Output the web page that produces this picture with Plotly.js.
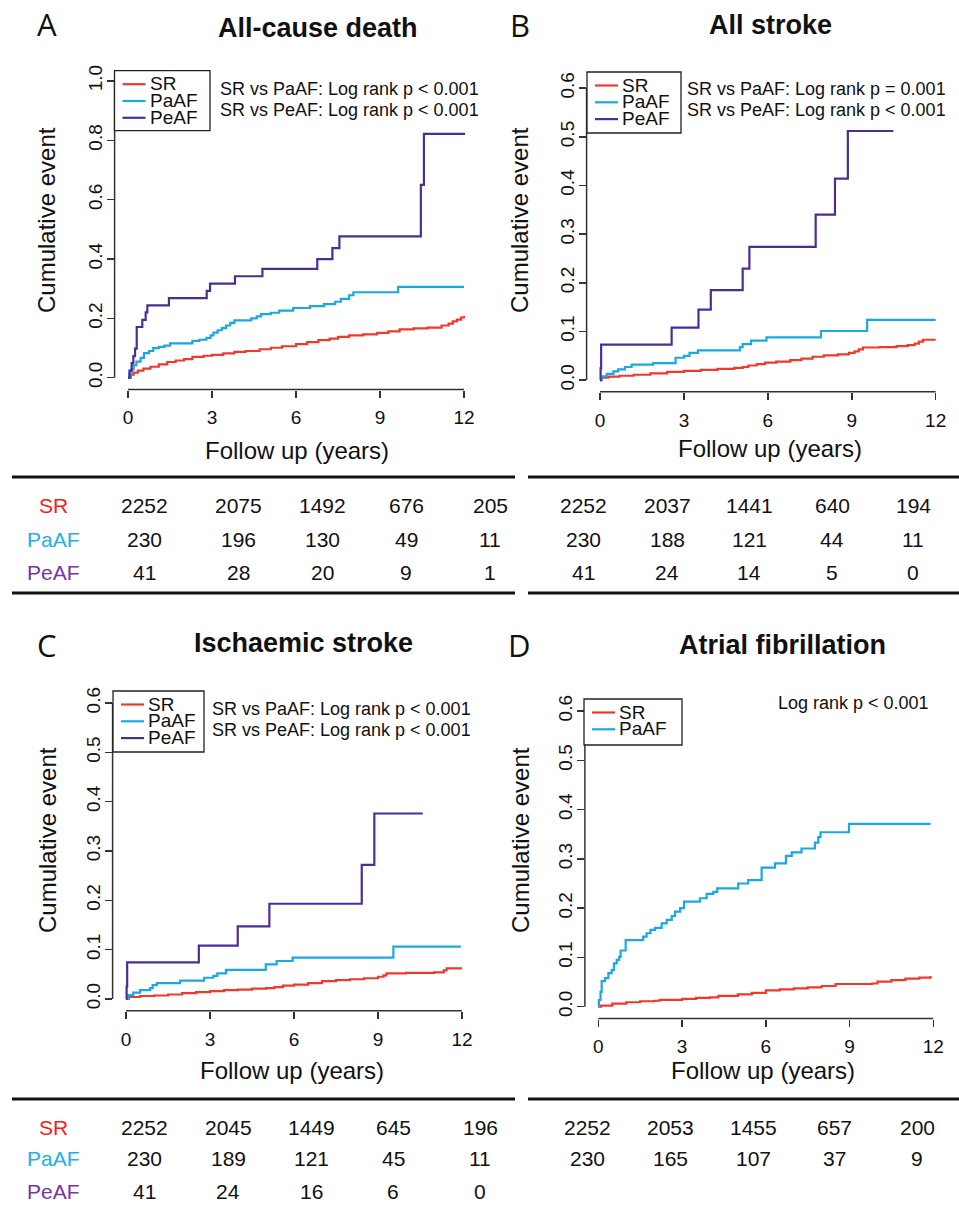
<!DOCTYPE html>
<html><head><meta charset="utf-8">
<script src="https://cdn.plot.ly/plotly-3.0.1.min.js"></script>
<style>html,body{margin:0;padding:0;background:#fff}#chart{width:959px;height:1208px}</style>
</head><body><div id="chart"></div>
<script>
// ---------- DATA ----------
const groups = ['SR', 'PaAF', 'PeAF'];
const xTicks = [0, 3, 6, 9, 12];

// A: All-cause death
const deathSR_t = [0, 0.1, 0.2, 0.35, 0.55, 0.8, 1.1, 1.4, 1.7, 2.0, 2.3, 2.7, 3.0, 3.4, 3.8, 4.2, 4.7, 5.1, 5.5, 6.0, 6.4, 6.8, 7.2, 7.5, 7.9, 8.4, 8.9, 9.3, 9.7, 10.2, 10.7, 11.2, 11.45, 11.6, 11.75, 11.9, 12.0];
const deathSR_y = [0, 0.01, 0.017, 0.024, 0.031, 0.037, 0.045, 0.053, 0.058, 0.063, 0.07, 0.074, 0.077, 0.082, 0.087, 0.09, 0.096, 0.101, 0.106, 0.113, 0.12, 0.127, 0.132, 0.138, 0.143, 0.146, 0.151, 0.156, 0.163, 0.166, 0.169, 0.176, 0.182, 0.19, 0.196, 0.203, 0.208];
const deathPaAF_t = [0, 0.05, 0.12, 0.2, 0.3, 0.45, 0.57, 0.75, 0.9, 1.1, 1.3, 1.5, 2.3, 2.55, 2.8, 2.95, 3.05, 3.2, 3.35, 3.5, 3.65, 3.8, 4.4, 4.6, 4.75, 5.1, 5.4, 5.9, 6.5, 7.0, 7.4, 7.6, 7.9, 8.05, 9.65, 12.0];
const deathPaAF_y = [0, 0.012, 0.028, 0.042, 0.054, 0.067, 0.083, 0.09, 0.1, 0.104, 0.108, 0.116, 0.124, 0.128, 0.134, 0.143, 0.152, 0.16, 0.167, 0.176, 0.185, 0.193, 0.2, 0.207, 0.214, 0.219, 0.226, 0.235, 0.241, 0.248, 0.256, 0.266, 0.278, 0.288, 0.306, 0.306];
const deathPeAF_t = [0, 0.05, 0.13, 0.19, 0.25, 0.31, 0.51, 0.63, 0.69, 1.46, 2.81, 2.93, 3.82, 4.80, 6.76, 7.30, 7.55, 10.46, 10.57, 12.04];
const deathPeAF_y = [0, 0.024, 0.049, 0.073, 0.098, 0.171, 0.195, 0.22, 0.244, 0.268, 0.293, 0.317, 0.342, 0.367, 0.4, 0.437, 0.476, 0.65, 0.822, 0.822];

// B: All stroke
const strokeSR_t = [0, 0.05, 0.3, 0.7, 1.2, 1.8, 2.4, 3.0, 3.6, 4.2, 4.8, 5.1, 5.3, 5.6, 5.9, 6.3, 6.8, 7.2, 7.6, 8.0, 8.5, 8.9, 9.1, 9.25, 9.4, 10.0, 10.6, 11.0, 11.25, 11.4, 11.55, 12.0];
const strokeSR_y = [0, 0.005, 0.007, 0.009, 0.011, 0.014, 0.017, 0.019, 0.021, 0.023, 0.025, 0.027, 0.03, 0.033, 0.036, 0.038, 0.041, 0.044, 0.048, 0.051, 0.053, 0.056, 0.059, 0.063, 0.067, 0.068, 0.07, 0.072, 0.075, 0.079, 0.083, 0.083];
const strokePaAF_t = [0, 0.06, 0.24, 0.48, 0.65, 0.89, 1.13, 1.9, 2.7, 3.0, 3.2, 3.5, 5.0, 5.1, 5.4, 5.95, 7.9, 9.55, 12.0];
const strokePaAF_y = [0, 0.008, 0.013, 0.018, 0.022, 0.027, 0.032, 0.035, 0.046, 0.05, 0.056, 0.061, 0.068, 0.074, 0.081, 0.088, 0.101, 0.124, 0.124];
const strokePeAF_t = [0, 0.02, 0.04, 2.56, 3.52, 3.96, 5.1, 5.34, 7.71, 8.4, 8.86, 10.49];
const strokePeAF_y = [0, 0.024, 0.073, 0.108, 0.145, 0.185, 0.229, 0.274, 0.34, 0.414, 0.512, 0.512];

// C: Ischaemic stroke
const ischSR_t = [0, 0.1, 0.5, 1.0, 1.5, 2.0, 2.5, 3.0, 3.5, 4.0, 4.5, 5.0, 5.3, 5.6, 6.0, 6.5, 7.0, 7.5, 8.0, 8.5, 9.0, 9.2, 9.3, 10.0, 11.0, 11.35, 11.45, 12.0];
const ischSR_y = [0, 0.004, 0.006, 0.007, 0.009, 0.012, 0.014, 0.016, 0.018, 0.019, 0.021, 0.022, 0.024, 0.027, 0.029, 0.032, 0.036, 0.038, 0.04, 0.042, 0.045, 0.048, 0.052, 0.053, 0.054, 0.058, 0.062, 0.062];
const ischPaAF_t = [0, 0.08, 0.26, 0.5, 0.86, 0.95, 1.1, 1.93, 2.79, 3.12, 3.26, 3.57, 4.99, 5.38, 5.95, 9.55, 11.96];
const ischPaAF_y = [0, 0.008, 0.013, 0.018, 0.022, 0.028, 0.032, 0.037, 0.043, 0.047, 0.052, 0.059, 0.07, 0.077, 0.084, 0.106, 0.106];
const ischPeAF_t = [0, 0.02, 0.04, 2.6, 3.99, 5.12, 8.42, 8.87, 10.6];
const ischPeAF_y = [0, 0.025, 0.074, 0.108, 0.147, 0.193, 0.272, 0.376, 0.376];

// D: Atrial fibrillation
const afSR_t = [0, 0.1, 0.5, 1.0, 1.5, 2.0, 2.2, 3.0, 3.5, 4.0, 4.3, 5.0, 5.5, 6.0, 6.5, 7.0, 7.5, 8.0, 8.5, 9.8, 10.0, 10.5, 11.0, 11.5, 11.9];
const afSR_y = [0, 0.002, 0.006, 0.009, 0.011, 0.012, 0.014, 0.016, 0.018, 0.019, 0.022, 0.025, 0.028, 0.033, 0.035, 0.037, 0.039, 0.042, 0.046, 0.047, 0.051, 0.054, 0.057, 0.059, 0.062];
const afPaAF_t = [0, 0.02, 0.08, 0.12, 0.24, 0.36, 0.48, 0.56, 0.66, 0.75, 0.8, 0.98, 1.61, 1.73, 1.87, 2.03, 2.27, 2.45, 2.63, 2.75, 2.93, 3.07, 3.64, 3.88, 4.12, 4.26, 5.01, 5.37, 5.85, 6.33, 6.72, 6.93, 7.28, 7.76, 7.88, 7.96, 8.98, 11.9];
const afPaAF_y = [0, 0.0135, 0.03, 0.052, 0.058, 0.068, 0.074, 0.088, 0.095, 0.101, 0.114, 0.135, 0.142, 0.149, 0.156, 0.16, 0.169, 0.176, 0.184, 0.193, 0.2, 0.213, 0.22, 0.229, 0.233, 0.24, 0.25, 0.257, 0.282, 0.291, 0.306, 0.313, 0.321, 0.333, 0.344, 0.354, 0.371, 0.371];

// Numbers at risk (at 0, 3, 6, 9, 12 years)
const deathRiskSR = [2252, 2075, 1492, 676, 205];
const deathRiskPaAF = [230, 196, 130, 49, 11];
const deathRiskPeAF = [41, 28, 20, 9, 1];
const strokeRiskSR = [2252, 2037, 1441, 640, 194];
const strokeRiskPaAF = [230, 188, 121, 44, 11];
const strokeRiskPeAF = [41, 24, 14, 5, 0];
const ischRiskSR = [2252, 2045, 1449, 645, 196];
const ischRiskPaAF = [230, 189, 121, 45, 11];
const ischRiskPeAF = [41, 24, 16, 6, 0];
const afRiskSR = [2252, 2053, 1455, 657, 200];
const afRiskPaAF = [230, 165, 107, 37, 9];

// Texts
const panelTitles = ['All-cause death', 'All stroke', 'Ischaemic stroke', 'Atrial fibrillation'];
const panelLetters = ['A', 'B', 'C', 'D'];
const logRankTexts = [
  ['SR vs PaAF: Log rank p < 0.001', 'SR vs PeAF: Log rank p < 0.001'],
  ['SR vs PaAF: Log rank p = 0.001', 'SR vs PeAF: Log rank p < 0.001'],
  ['SR vs PaAF: Log rank p < 0.001', 'SR vs PeAF: Log rank p < 0.001'],
  ['Log rank p < 0.001']
];
const yTitle = 'Cumulative event';
const xTitle = 'Follow up (years)';

// ---------- STYLE / LAYOUT ----------
const W = 959, H = 1208;
const PX = v => v / W, PY = v => 1 - v / H;
const FONT = 'Liberation Sans, Arial, Helvetica, sans-serif';
const curveColors = { SR: '#EE3A2C', PaAF: '#1BA8E0', PeAF: '#4B2D96' };
const labelColors = { SR: '#FF1A1A', PaAF: '#22B0E6', PeAF: '#7435A8' };
const AX = '#333333';

const series = [
  { SR: [deathSR_t, deathSR_y], PaAF: [deathPaAF_t, deathPaAF_y], PeAF: [deathPeAF_t, deathPeAF_y] },
  { SR: [strokeSR_t, strokeSR_y], PaAF: [strokePaAF_t, strokePaAF_y], PeAF: [strokePeAF_t, strokePeAF_y] },
  { SR: [ischSR_t, ischSR_y], PaAF: [ischPaAF_t, ischPaAF_y], PeAF: [ischPeAF_t, ischPeAF_y] },
  { SR: [afSR_t, afSR_y], PaAF: [afPaAF_t, afPaAF_y] }
];
const risks = [
  { SR: deathRiskSR, PaAF: deathRiskPaAF, PeAF: deathRiskPeAF },
  { SR: strokeRiskSR, PaAF: strokeRiskPaAF, PeAF: strokeRiskPeAF },
  { SR: ischRiskSR, PaAF: ischRiskPaAF, PeAF: ischRiskPeAF },
  { SR: afRiskSR, PaAF: afRiskPaAF }
];

// pixel geometry of each panel
const geo = [
  { xd: [114.6, 477.4], yd: [389.6, 69.1], yr: [-0.04, 1.04], ymax: 1.0, dt: 0.2,
    letter: [47, 24], title: [318, 28], ytit: [47, 220], xtit: [297, 450],
    leg: [114.5, 70.7, 210, 130.7], lr: { x: 218, y: [89, 110], anchor: 'left' } },
  { xd: [586.6, 949.1], yd: [391.8, 76.5], yr: [-0.024, 0.624], ymax: 0.6, dt: 0.1,
    letter: [520, 25], title: [770, 25], ytit: [520, 220], xtit: [770, 448],
    leg: [587, 72, 681, 133], lr: { x: 685, y: [89, 110], anchor: 'left' } },
  { xd: [112.6, 475.4], yd: [1010.8, 691.2], yr: [-0.024, 0.624], ymax: 0.6, dt: 0.1,
    letter: [47, 645], title: [303, 643], ytit: [47, 840], xtit: [292, 1070],
    leg: [113, 691, 204, 752], lr: { x: 210, y: [709, 730], anchor: 'left' } },
  { xd: [584.9, 946.7], yd: [1018.5, 699.2], yr: [-0.024, 0.624], ymax: 0.6, dt: 0.1,
    letter: [519, 645], title: [782, 645], ytit: [520, 840], xtit: [763, 1070],
    leg: [584, 699, 682, 745], lr: { x: 931, y: [703], anchor: 'right' } }
];
const tables = [
  { cols: [144, 238, 322, 406, 490], rows: [506, 539, 572], labelX: 53 },
  { cols: [583, 667, 749, 832, 913], rows: [506, 539, 572], labelX: null },
  { cols: [144, 228, 311, 393, 480], rows: [1127, 1158, 1191], labelX: 53 },
  { cols: [587, 670, 753, 834, 917], rows: [1127, 1158, 1191], labelX: null }
];
const tableLines = [
  [12, 477, 515], [528, 477, 959], [12, 593, 515], [528, 593, 959],
  [12, 1099, 515], [528, 1099, 959]
];

const traces = [];
const layout = {
  width: W, height: H, autosize: false,
  margin: { l: 0, r: 0, t: 0, b: 0 },
  paper_bgcolor: '#ffffff', plot_bgcolor: 'rgba(0,0,0,0)',
  showlegend: false,
  font: { family: FONT, color: '#111' },
  shapes: [], annotations: []
};
const ann = (x, y, text, size, opts = {}) => Object.assign({
  xref: 'paper', yref: 'paper', x: PX(x), y: PY(y), text, showarrow: false,
  xanchor: 'center', yanchor: 'middle', font: { family: FONT, size, color: '#111' }
}, opts);

geo.forEach((g, i) => {
  const n = i === 0 ? '' : String(i + 1);
  const xa = 'xaxis' + n, ya = 'yaxis' + n;
  const yticks = [];
  for (let v = 0; v <= g.ymax + 1e-9; v += g.dt) yticks.push(+v.toFixed(2));
  layout[xa] = {
    domain: [PX(g.xd[0]), PX(g.xd[1])], range: [-0.48, 12.48], anchor: 'y' + n,
    showgrid: false, zeroline: false, showline: false, ticks: 'outside', ticklen: 7,
    tickwidth: 1.5, tickcolor: AX, tickvals: xTicks, ticktext: xTicks.map(String),
    tickfont: { family: FONT, size: 19, color: '#111' }, ticklabelstandoff: 4, fixedrange: true
  };
  layout[ya] = {
    domain: [PY(g.yd[0]), PY(g.yd[1])], range: g.yr, anchor: 'x' + n,
    showgrid: false, zeroline: false, showline: false, ticks: 'outside', ticklen: 7,
    tickwidth: 1.5, tickcolor: AX, tickvals: yticks, ticktext: yticks.map(v => v.toFixed(1)),
    tickangle: -90, tickfont: { family: FONT, size: 19, color: '#111' }, ticklabelstandoff: -3, fixedrange: true
  };
  // R-style axis lines spanning only the tick range
  layout.shapes.push({ type: 'line', xref: 'x' + n, yref: 'y' + n + ' domain', x0: 0, x1: 12, y0: 0, y1: 0, line: { color: AX, width: 1.5 } });
  layout.shapes.push({ type: 'line', xref: 'x' + n + ' domain', yref: 'y' + n, x0: 0, x1: 0, y0: 0, y1: g.ymax, line: { color: AX, width: 1.5 } });

  // curves
  Object.keys(series[i]).forEach(gr => {
    const [t, y] = series[i][gr];
    traces.push({ x: t, y: y, type: 'scatter', mode: 'lines', name: gr, xaxis: 'x' + n, yaxis: 'y' + n,
      line: { shape: 'hv', color: curveColors[gr], width: 2.2 }, hoverinfo: 'skip' });
  });

  // legend box (manual, R-style)
  const [lx0, ly0, lx1, ly1] = g.leg;
  layout.shapes.push({ type: 'rect', xref: 'paper', yref: 'paper', x0: PX(lx0), x1: PX(lx1), y0: PY(ly1), y1: PY(ly0),
    line: { color: '#222', width: 1.3 }, fillcolor: '#ffffff' });
  Object.keys(series[i]).forEach((gr, k) => {
    const ry = ly0 + 13.5 + 16.8 * k;
    layout.shapes.push({ type: 'line', xref: 'paper', yref: 'paper', x0: PX(lx0 + 8), x1: PX(lx0 + 31), y0: PY(ry), y1: PY(ry),
      line: { color: curveColors[gr], width: 2.2 } });
    layout.annotations.push(ann(lx0 + 33, ry - 1, gr, 19, { xanchor: 'left', height: 16 }));
  });

  // log-rank text
  logRankTexts[i].forEach((txt, k) => {
    layout.annotations.push(ann(g.lr.x, g.lr.y[k], txt, 18, { xanchor: g.lr.anchor, height: 20 }));
  });

  // titles and labels
  layout.annotations.push(ann(g.letter[0], g.letter[1], panelLetters[i], 31, { font: { family: 'Open Sans, Noto Sans, sans-serif', size: 31, color: '#111' } }));
  layout.annotations.push(ann(g.title[0], g.title[1], '<b>' + panelTitles[i] + '</b>', 27));
  layout.annotations.push(ann(g.ytit[0], g.ytit[1], yTitle, 24, { textangle: -90 }));
  layout.annotations.push(ann(g.xtit[0], g.xtit[1], xTitle, 24));

  // numbers at risk
  const tb = tables[i];
  Object.keys(risks[i]).forEach((gr, k) => {
    if (tb.labelX !== null) layout.annotations.push(ann(tb.labelX, tb.rows[k], gr, 21, { font: { family: FONT, size: 21, color: labelColors[gr] } }));
    risks[i][gr].forEach((v, c) => layout.annotations.push(ann(tb.cols[c], tb.rows[k], String(v), 21)));
  });
});
tableLines.forEach(([x0, y, x1]) => layout.shapes.push({ type: 'line', xref: 'paper', yref: 'paper',
  x0: PX(x0), x1: PX(x1), y0: PY(y), y1: PY(y), line: { color: '#111', width: 3.2 } }));

Plotly.newPlot('chart', traces, layout, { staticPlot: true, displayModeBar: false });
</script>
</body></html>
